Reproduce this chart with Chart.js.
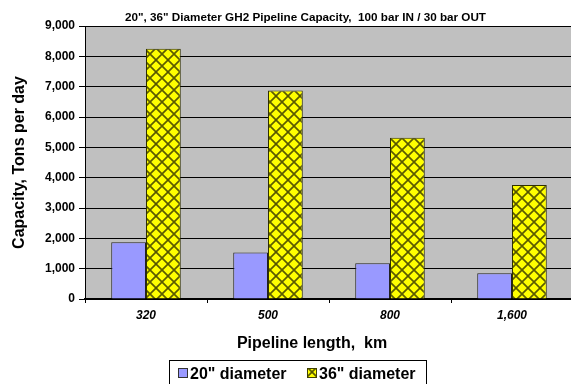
<!DOCTYPE html>
<html>
<head>
<meta charset="utf-8">
<script src="https://cdn.jsdelivr.net/npm/chart.js@4/dist/chart.umd.min.js"></script>
<style>
  html, body { margin: 0; padding: 0; background: #fff; overflow: hidden; width: 571px; height: 384px; }
  #wrap { position: relative; width: 574px; height: 384px; }
  canvas { display: block; }
</style>
</head>
<body>
<div id="wrap"><canvas id="c" width="574" height="384"></canvas></div>
<script>
// Pipeline capacity data (tons per day) by pipeline length
const lengthsKm = ['320', '500', '800', '1,600'];
const cap20in = [1870, 1530, 1180, 845];
const cap36in = [8250, 6870, 5315, 3760];
const seriesNames = ['20" diameter', '36" diameter'];
const chartTitle = '20", 36" Diameter GH2 Pipeline Capacity,  100 bar IN / 30 bar OUT';
const xAxisTitle = 'Pipeline length,  km';
const yAxisTitle = 'Capacity, Tons per day';
const yMax = 9000;
const yStep = 1000;

const FONT = '"Liberation Sans", Arial, Helvetica, sans-serif';
const canvas = document.getElementById('c');
const ctx = canvas.getContext('2d');

// Yellow fill with a dark diagonal cross-hatch
function makeHatch() {
  const s = 12;
  const t = document.createElement('canvas');
  t.width = s; t.height = s;
  const g = t.getContext('2d');
  g.fillStyle = '#ffff00';
  g.fillRect(0, 0, s, s);
  g.strokeStyle = 'rgba(64,64,0,0.85)';
  g.lineWidth = 1.7;
  for (const k of [-s, 0, s]) {
    g.beginPath();
    g.moveTo(k, 0); g.lineTo(k + s, s);
    g.moveTo(k + s, 0); g.lineTo(k, s);
    g.stroke();
  }
  return ctx.createPattern(t, 'repeat');
}
const hatch = makeHatch();
const blueFill = '#9999ff';

// Grey plot background
const plotBackground = {
  id: 'plotBackground',
  beforeDraw(chart) {
    const a = chart.chartArea;
    const c = chart.ctx;
    c.save();
    c.fillStyle = '#c0c0c0';
    c.fillRect(a.left, a.top, chart.width - a.left, a.bottom - a.top);
    c.restore();
  }
};

// Title, x-axis title and boxed legend
const frameText = {
  id: 'frameText',
  afterDraw(chart) {
    const c = chart.ctx;
    c.save();
    c.fillStyle = '#000';
    c.textBaseline = 'alphabetic';
    c.textAlign = 'center';
    c.font = 'bold 11.7px ' + FONT;
    c.fillText(chartTitle, 305.5, 20.5);

    c.font = 'bold 16px ' + FONT;
    c.fillText(xAxisTitle, 312, 347.5);

    // legend box
    c.fillStyle = '#fff';
    c.fillRect(169.5, 360.5, 257, 30);
    c.strokeStyle = '#000';
    c.lineWidth = 1;
    c.strokeRect(169.5, 360.5, 257, 30);

    const fills = [blueFill, hatch];
    const xs = [178, 307];
    c.font = 'bold 16px ' + FONT;
    c.textAlign = 'left';
    c.textBaseline = 'alphabetic';
    for (let i = 0; i < 2; i++) {
      c.fillStyle = fills[i];
      c.fillRect(xs[i] + 0.5, 368.5, 9, 9);
      c.strokeStyle = i === 0 ? '#333' : '#404000';
      c.strokeRect(xs[i] + 0.5, 368.5, 9, 9);
      c.fillStyle = '#000';
      c.fillText(seriesNames[i], xs[i] + 12, 379);
    }
    c.restore();
  }
};

new Chart(ctx, {
  type: 'bar',
  data: {
    labels: lengthsKm,
    datasets: [
      { label: seriesNames[0], data: cap20in, backgroundColor: blueFill, borderColor: '#222', borderWidth: 1,
        categoryPercentage: 0.57, barPercentage: 1.0 },
      { label: seriesNames[1], data: cap36in, backgroundColor: hatch, borderColor: '#303000', borderWidth: 1,
        categoryPercentage: 0.57, barPercentage: 1.0 }
    ]
  },
  options: {
    responsive: false,
    animation: false,
    layout: { padding: { top: 26, right: 1, bottom: 55, left: 0 } },
    plugins: {
      legend: { display: false },
      title: { display: false },
      tooltip: { enabled: false }
    },
    scales: {
      x: {
        grid: { offset: true, drawOnChartArea: false, drawTicks: true, tickLength: 4, color: '#000' },
        border: { display: true, color: '#000', width: 2 },
        ticks: { color: '#000', padding: 5, font: { family: FONT, size: 12, weight: 'bold', style: 'italic' } },
        afterFit(s) { s.height = 30; }
      },
      y: {
        min: 0,
        max: yMax,
        ticks: {
          stepSize: yStep,
          color: '#000',
          padding: 4,
          font: { family: FONT, size: 12, weight: 'bold' },
          callback: v => v.toLocaleString('en-US')
        },
        grid: { color: '#000', lineWidth: 1, tickLength: 6 },
        border: { display: true, color: '#000', width: 1 },
        title: {
          display: true, text: yAxisTitle, color: '#000',
          font: { family: FONT, size: 16, weight: 'bold' },
          padding: { top: 10, bottom: 0 }
        },
        afterFit(s) { s.width = 85; }
      }
    }
  },
  plugins: [plotBackground, frameText]
});
</script>
</body>
</html>
